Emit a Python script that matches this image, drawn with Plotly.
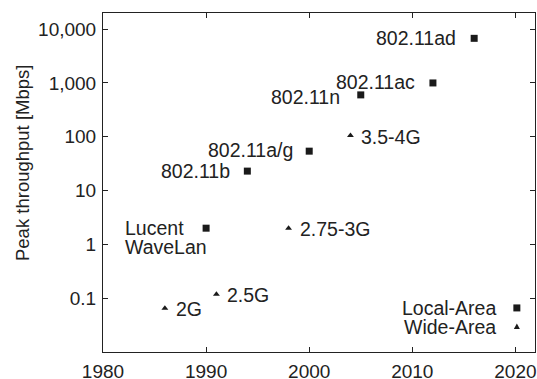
import numpy as np
import plotly.graph_objects as go

# Local-area (WLAN) standards
lan_names = ["Lucent<br>WaveLan", "802.11b", "802.11a/g", "802.11n", "802.11ac", "802.11ad"]
lan_years = [1990, 1994, 2000, 2005, 2012, 2016]
lan_mbps = [2, 23, 54, 600, 1000, 6750]

# Wide-area (cellular) generations
wan_names = ["2G", "2.5G", "2.75-3G", "3.5-4G"]
wan_years = [1986, 1991, 1998, 2004]
wan_mbps = [0.065, 0.118, 2, 105]

y_tickvals = [0.1, 1, 10, 100, 1000, 10000]
y_ticktext = ["0.1", "1", "10", "100", "1,000", "10,000"]
x_tickvals = [1980, 1990, 2000, 2010, 2020]

legend_names = ["Local-Area", "Wide-Area"]

FONT = "Liberation Sans, Arial, Helvetica, sans-serif"
FS = 19.5
TXT = "#222222"
MK = "#1a1a1a"

fig = go.Figure()
fig.add_trace(go.Scatter(x=lan_years, y=lan_mbps, mode="markers",
                         marker=dict(symbol="square", size=7, color=MK),
                         showlegend=False, hoverinfo="skip"))
fig.add_trace(go.Scatter(x=wan_years, y=wan_mbps, mode="markers",
                         marker=dict(symbol="triangle-up", size=6, color=MK),
                         showlegend=False, hoverinfo="skip"))

ann = []
lan_shift = [None, -15, -14, -19, -16, -16]
lan_yshift = [0, 0, 1, -2, 1, 0]
for i, (n, x, y) in enumerate(zip(lan_names, lan_years, lan_mbps)):
    if i == 0:
        for k, line in enumerate(n.split("<br>")):
            ann.append(dict(x=x, y=np.log10(y), xref="x", yref="y", text=line, showarrow=False,
                            xanchor="left", yanchor="middle", align="left", xshift=-83,
                            yshift=-19 * k,
                            font=dict(family=FONT, size=FS, color=TXT)))
    else:
        ann.append(dict(x=x, y=np.log10(y), xref="x", yref="y", text=n, showarrow=False,
                        xanchor="right", yanchor="middle", xshift=lan_shift[i], yshift=lan_yshift[i],
                        font=dict(family=FONT, size=FS, color=TXT)))
for n, x, y in zip(wan_names, wan_years, wan_mbps):
    ann.append(dict(x=x, y=np.log10(y), xref="x", yref="y", text=n, showarrow=False,
                    xanchor="left", yanchor="middle", xshift=9, yshift=-1,
                    font=dict(family=FONT, size=FS, color=TXT)))

# legend key, placed in the lower-right corner of the plot area
LEG_X = 0.958
LEG_Y = [0.130, 0.074]
for n, yy in zip(legend_names, LEG_Y):
    ann.append(dict(x=LEG_X, y=yy, xref="paper", yref="paper", text=n, showarrow=False,
                    xanchor="right", yanchor="middle", xshift=-19,
                    font=dict(family=FONT, size=FS, color=TXT)))
shapes = [
    dict(type="rect", xref="paper", yref="paper", xsizemode="pixel", ysizemode="pixel",
         xanchor=LEG_X, yanchor=LEG_Y[0], x0=-3.5, x1=3.5, y0=-3.5, y1=3.5,
         fillcolor=MK, line=dict(width=0)),
    dict(type="path", xref="paper", yref="paper", xsizemode="pixel", ysizemode="pixel",
         xanchor=LEG_X, yanchor=LEG_Y[1], path="M -3,-2 L 3,-2 L 0,3.5 Z",
         fillcolor=MK, line=dict(width=0)),
]

ann.append(dict(x=0, y=0.5575, xref="paper", yref="paper", text="Peak throughput [Mbps]",
                textangle=-90, showarrow=False, xanchor="center", yanchor="middle", xshift=-81,
                font=dict(family=FONT, size=18.5, color=TXT)))

axis_common = dict(showline=True, linecolor="#222222", linewidth=1, mirror="ticks",
                   ticks="inside", ticklen=5, tickcolor="#222222", showgrid=False, zeroline=False,
                   automargin=False,
                   tickfont=dict(family=FONT, size=19, color=TXT))

fig.update_layout(
    width=537, height=379,
    margin=dict(l=103, r=2, t=13, b=27),
    paper_bgcolor="white", plot_bgcolor="white",
    xaxis=dict(range=[1980, 2021.9], tickvals=x_tickvals, ticklabelstandoff=2, **axis_common),
    yaxis=dict(type="log", range=[-2, 4.3], tickvals=y_tickvals, ticktext=y_ticktext,
               ticklabelstandoff=2, **axis_common),
    annotations=ann,
    shapes=shapes,
    showlegend=False,
)

fig.write_html("out.html", config={"displayModeBar": False},
               post_script="document.body.style.margin='0';document.body.style.overflow='hidden';")
